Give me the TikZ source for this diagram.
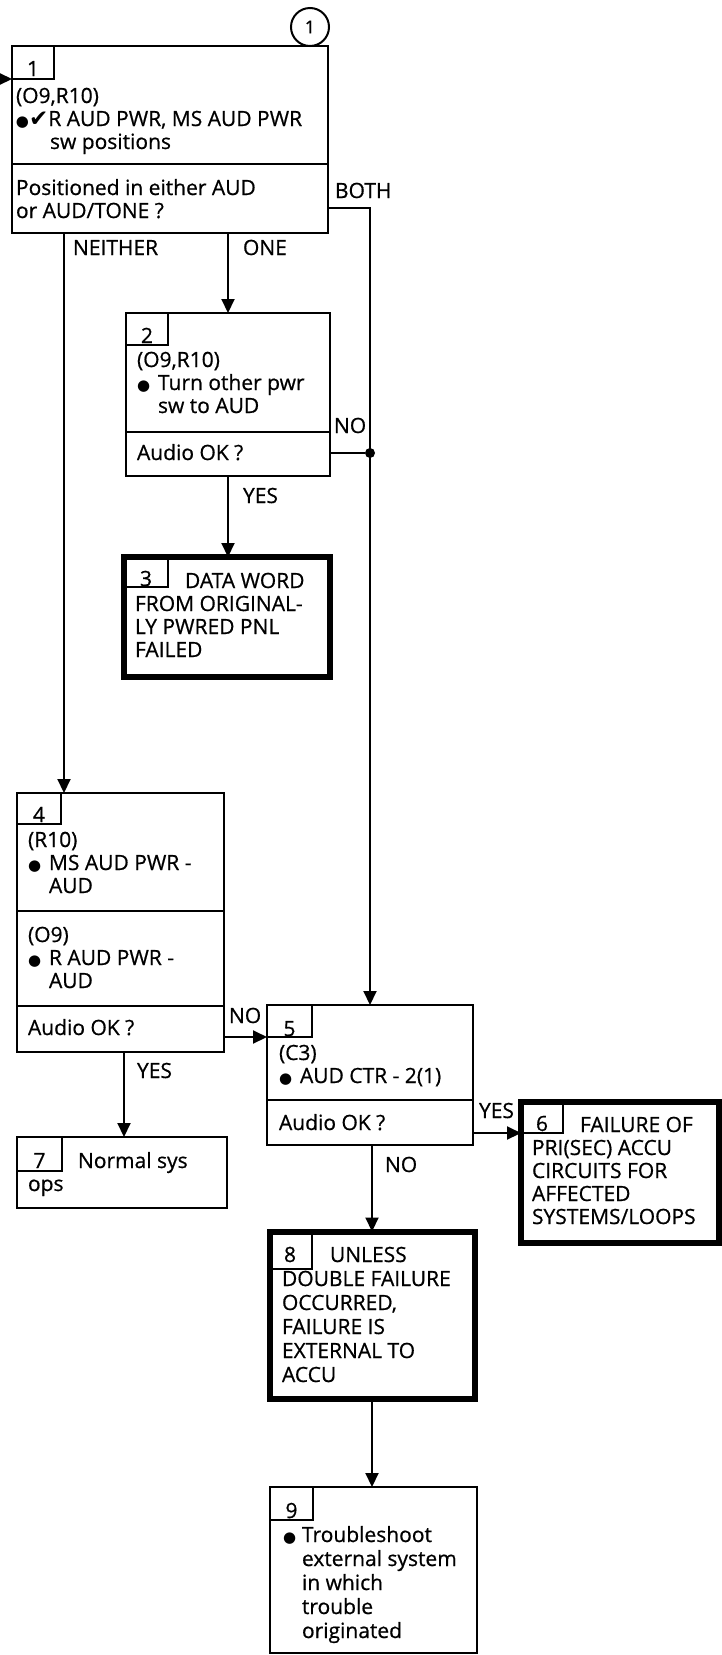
\documentclass[tikz,border=0pt]{standalone}
\usepackage{fontspec}
\setmainfont{Open Sans}[FakeBold=0.7]
\newfontfamily\symf{DejaVu Sans}
\usetikzlibrary{arrows.meta,calc}
\newcommand\bb{{\symf\fontsize{15}{15}\selectfont ●}}
\newcommand\bl{\makebox[21pt][l]{\bb}}
\newcommand\ck{{\symf\fontsize{23}{23}\selectfont ✔}}
\newcommand\fl{\rule{0pt}{18pt}}
\begin{document}
\begin{tikzpicture}[x=1pt,y=-1pt,
  every node/.style={inner sep=0pt, outer sep=0pt},
  pbox/.style={draw, line width=2pt, rectangle},
  tbox/.style={draw, line width=6pt, rectangle},
  txt/.style={anchor=north west, align=left, font=\fontsize{21}{23}\selectfont},
  txtb/.style={anchor=north west, align=left, font=\fontsize{21}{24}\selectfont},
  lbl/.style={anchor=base west, font=\fontsize{21}{23}\selectfont},
  num/.style={anchor=base, font=\fontsize{21}{23}\selectfont},
  ln/.style={line width=2pt},
  arr/.style={line width=2pt, -{Triangle[length=14pt,width=13pt]}},
]
\useasboundingbox (0,0) rectangle (722,1655);

% boxes
\node[pbox, minimum width=316pt, minimum height=187pt] (b1) at (170,139.5) {};
\node[pbox, minimum width=204pt, minimum height=163pt] (b2) at (228,394.5) {};
\node[tbox, minimum width=205.5pt, minimum height=120pt] (b3) at (226.75,617) {};
\node[pbox, minimum width=207pt, minimum height=259pt] (b4) at (120.5,922.5) {};
\node[pbox, minimum width=206pt, minimum height=140pt] (b5) at (370,1075) {};
\node[tbox, minimum width=198pt, minimum height=141pt] (b6) at (620,1172.5) {};
\node[pbox, minimum width=210pt, minimum height=71pt] (b7) at (122,1172.5) {};
\node[tbox, minimum width=205pt, minimum height=167.5pt] (b8) at (372,1315.25) {};
\node[pbox, minimum width=207pt, minimum height=166pt] (b9) at (373.5,1570) {};

% number boxes
\draw[ln] (b1.north west) rectangle ++(42,33);
\draw[ln] (b2.north west) rectangle ++(42,32);
\draw[ln] (b3.north west) rectangle ++(44,30);
\draw[ln] (b4.north west) rectangle ++(44,31);
\draw[ln] (b5.north west) rectangle ++(45,32);
\draw[ln] (b6.north west) rectangle ++(42,31);
\draw[ln] (b7.north west) rectangle ++(45,34);
\draw[ln] (b8.north west) rectangle ++(42.5,37.5);
\draw[ln] (b9.north west) rectangle ++(43,33);

% dividers
\draw[ln] (b1.west |- 0,164) -- (b1.east |- 0,164);
\draw[ln] (b2.west |- 0,432) -- (b2.east |- 0,432);
\draw[ln] (b4.west |- 0,911) -- (b4.east |- 0,911);
\draw[ln] (b4.west |- 0,1006) -- (b4.east |- 0,1006);
\draw[ln] (b5.west |- 0,1100) -- (b5.east |- 0,1100);

% numbers
\node[num] (n1) at (33,76) {1};
\node[num] (n2) at (147,343) {2};
\node[num] (n3) at (146,586) {3};
\node[num] (n4) at (39,822) {4};
\node[num] (n5) at (289.5,1036) {5};
\node[num] (n6) at (542,1131) {6};
\node[num] (n7) at (39.5,1168) {7};
\node[num] (n8) at (290,1262) {8};
\node[num] (n9) at (291.5,1518) {9};

% circle 1
\node[circle, draw, line width=2pt, minimum size=38pt, font=\fontsize{18}{18}\selectfont] (c1) at (310,27) {1};

% texts
\node[txt] (t1a) at (16,85) {\fl(O9,R10)\\\bb\ck R AUD PWR, MS AUD PWR\\\hspace*{34pt}sw positions};
\node[txt] (t1b) at (16,177) {\fl Positioned in either AUD\\or AUD/TONE ?};
\node[txt] (t2a) at (137,349) {\fl(O9,R10)\\\bl Turn other pwr\\\hspace*{21pt}sw to AUD};
\node[txt] (t2b) at (137,442) {\fl Audio OK ?};
\node[txt] (t3) at (135,570) {\fl\hspace*{50pt}DATA WORD\\FROM ORIGINAL-\\LY PWRED PNL\\FAILED};
\node[txt] (t4a) at (28,829) {\fl(R10)\\\bl MS AUD PWR -\\\hspace*{21pt}AUD};
\node[txt] (t4b) at (28,924) {\fl(O9)\\\bl R AUD PWR -\\\hspace*{21pt}AUD};
\node[txt] (t4c) at (28,1017) {\fl Audio OK ?};
\node[txt] (t5a) at (279,1042) {\fl(C3)\\\bl AUD CTR - 2(1)};
\node[txt] (t5b) at (279,1112) {\fl Audio OK ?};
\node[txt] (t6) at (532,1114) {\fl\hspace*{48pt}FAILURE OF\\PRI(SEC) ACCU\\CIRCUITS FOR\\AFFECTED\\SYSTEMS/LOOPS};
\node[txt] (t7) at (28,1150) {\fl\hspace*{50pt}Normal sys\\ops};
\node[txtb] (t8) at (282,1244) {\fl\hspace*{48pt}UNLESS\\DOUBLE FAILURE\\OCCURRED,\\FAILURE IS\\EXTERNAL TO\\ACCU};
\node[txtb] (t9) at (283,1524) {\fl\makebox[19pt][l]{\bb}Troubleshoot\\\hspace*{19pt}external system\\\hspace*{19pt}in which\\\hspace*{19pt}trouble\\\hspace*{19pt}originated};

% connectors
\coordinate (in) at (0,79);
\draw[arr] (in) -- (b1.west |- in);

\coordinate (nx) at (64,0);
\draw[arr] (b1.south -| nx) -- (b4.north -| nx);
\node[lbl] (lneither) at (73,255) {NEITHER};

\draw[arr] (b1.south -| b2.north) -- (b2.north);
\node[lbl] (lone) at (243,255) {ONE};

\coordinate (bothy) at (0,208);
\draw[arr] (b1.east |- bothy) -| (b5.north);
\node[lbl] (lboth) at (335,198) {BOTH};

\node[circle, fill, minimum size=10pt] (j) at (b5.north |- 0,453) {};
\draw[ln] (b2.east |- j) -- (j);
\node[lbl] (lno2) at (334,433) {NO};

\draw[arr] (b2.south) -- (b3.north -| b2.south);
\node[lbl] (lyes2) at (243,503) {YES};

\coordinate (noy4) at (0,1037);
\draw[arr] (b4.east |- noy4) -- (b5.west |- noy4);
\node[lbl] (lno4) at (229,1023) {NO};

\coordinate (yx4) at (124,0);
\draw[arr] (b4.south -| yx4) -- (b7.north -| yx4);
\node[lbl] (lyes4) at (137,1078) {YES};

\coordinate (yesy5) at (0,1133);
\draw[arr] (b5.east |- yesy5) -- (b6.west |- yesy5);
\node[lbl] (lyes5) at (479,1118) {YES};

\draw[arr] (b5.south -| b8.north) -- (b8.north);
\node[lbl] (lno5) at (385,1172) {NO};

\draw[arr] (b8.south) -- (b9.north -| b8.south);
\end{tikzpicture}
\end{document}
